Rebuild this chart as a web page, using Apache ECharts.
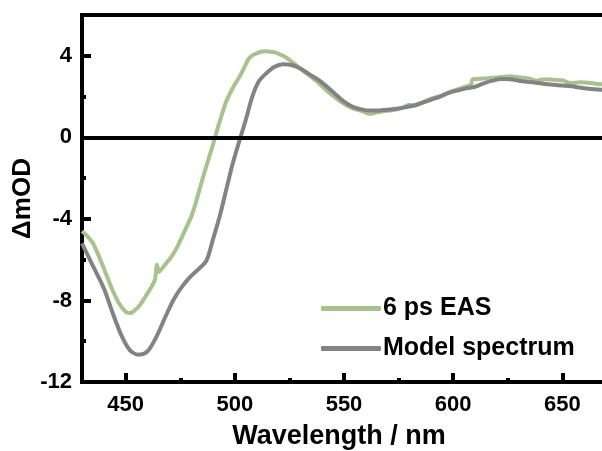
<!DOCTYPE html>
<html>
<head>
<meta charset="utf-8">
<script src="https://cdn.jsdelivr.net/npm/echarts@6/dist/echarts.min.js"></script>
<style>html,body{margin:0;padding:0;background:#fff;}#c{width:602px;height:451px;}</style>
</head>
<body>
<div id="c"></div>
<script>
const easWavelengths = [430,432,435,438,441,444,447,450,452,454,456,458,460,462,463.5,464.3,465.3,468,471,474,477,480,482,484,486,488,490,492,494,496,498,500,502,504,506,508,510,512,514,516,518,520,522,524,526,528,530,534,538,542,546,550,554,558,562,564,568,572,576,580,582,586,590,594,598,602,606,608,609,614,618,622,626,630,634,638,642,646,650,654,658,662,666,670];
const easValues = [-4.6,-4.8,-5.2,-5.9,-6.7,-7.5,-8.15,-8.55,-8.62,-8.5,-8.3,-8.0,-7.65,-7.3,-6.95,-6.25,-6.6,-6.25,-5.85,-5.3,-4.6,-3.9,-3.25,-2.5,-1.75,-1.05,-0.35,0.4,1.1,1.75,2.2,2.6,2.95,3.35,3.8,4.02,4.12,4.2,4.22,4.2,4.18,4.1,4.0,3.88,3.72,3.55,3.37,3.05,2.7,2.3,1.95,1.65,1.42,1.3,1.15,1.2,1.28,1.33,1.42,1.6,1.55,1.72,1.9,2.02,2.2,2.35,2.5,2.55,2.85,2.88,2.92,2.96,3.0,2.95,2.9,2.78,2.85,2.82,2.8,2.65,2.7,2.68,2.62,2.6];

const modelWavelengths = [430,435,440,444,448,452,456,460,464,468,472,476,480,484,487,490,493,496,499,502,505,508,511,514,518,522,526,530,534,538,542,546,550,554,558,562,566,570,574,578,582,586,590,594,598,602,606,610,614,618,622,626,630,634,638,642,646,650,654,658,662,666,670];
const modelValues = [-5.2,-6.3,-7.4,-8.6,-9.7,-10.45,-10.66,-10.5,-9.8,-8.85,-7.95,-7.3,-6.8,-6.4,-6.05,-5.0,-3.9,-2.6,-1.3,-0.2,0.85,2.0,2.75,3.1,3.45,3.59,3.55,3.38,3.1,2.84,2.5,2.12,1.75,1.5,1.37,1.31,1.32,1.35,1.4,1.47,1.56,1.7,1.85,2.0,2.18,2.3,2.4,2.48,2.65,2.78,2.86,2.85,2.78,2.72,2.68,2.62,2.58,2.54,2.5,2.44,2.38,2.35,2.32];

const xMajorTicks = [450,500,550,600,650];
const xMinorTicks = [475,525,575,625];
const yMajorTicks = [-12,-8,-4,0,4];
const yMinorTicks = [-10,-6,-2,2];
const seriesNames = ['6 ps EAS','Model spectrum'];

const FONT = '"Liberation Sans", Arial, sans-serif';
const chart = echarts.init(document.getElementById('c'), null, {renderer:'canvas'});
const zip = (xs, ys) => xs.map((x,i)=>[x, ys[i]]);
const axisLineStyle = {color:'#000', width:4};

chart.setOption({
  animation:false,
  backgroundColor:'#fff',
  grid:{left:82, right:-4, top:15, bottom:69, containLabel:false, outerBoundsMode:'none',
        show:true, borderColor:'#000', borderWidth:4, backgroundColor:'transparent'},
  legend:{
    orient:'vertical', left:316, top:291, itemWidth:60, itemHeight:5, itemGap:15,
    icon:'roundRect',
    textStyle:{fontFamily:FONT, fontWeight:'bold', fontSize:25, color:'#000', padding:[0,0,0,-3]},
    data:seriesNames
  },
  xAxis:[
    {type:'value', min:430, max:670, position:'bottom',
     axisLine:{show:true, lineStyle:axisLineStyle, onZero:false},
     axisTick:{show:true, inside:true, length:9, lineStyle:{color:'#000', width:4}, customValues:xMajorTicks},
     axisLabel:{show:true, margin:12, fontFamily:FONT, fontWeight:'bold', fontSize:22, color:'#000', customValues:xMajorTicks},
     splitLine:{show:false},
     name:'Wavelength / nm', nameLocation:'middle', nameGap:41,
     nameTextStyle:{fontFamily:FONT, fontWeight:'bold', fontSize:27, color:'#000', padding:[0,10,0,0]}},
    {type:'value', min:430, max:670, position:'bottom', offset:0,
     axisLine:{show:false, onZero:false},
     axisTick:{show:true, inside:true, length:4, lineStyle:{color:'#000', width:4}, customValues:xMinorTicks},
     axisLabel:{show:false}, splitLine:{show:false}}
  ],
  yAxis:[
    {type:'value', min:-12, max:6, position:'left',
     axisLine:{show:true, lineStyle:axisLineStyle, onZero:false},
     axisTick:{show:true, inside:true, length:9, lineStyle:{color:'#000', width:4}, customValues:yMajorTicks},
     axisLabel:{show:true, margin:10, fontFamily:FONT, fontWeight:'bold', fontSize:22, color:'#000', customValues:yMajorTicks},
     splitLine:{show:false},
     name:'\u0394mOD', nameLocation:'middle', nameGap:46, nameRotate:90, nameMoveOverlap:false,
     nameTextStyle:{fontFamily:FONT, fontWeight:'bold', fontSize:26, color:'#000'}},
    {type:'value', min:-12, max:6, position:'left', offset:0,
     axisLine:{show:false, onZero:false},
     axisTick:{show:true, inside:true, length:4, lineStyle:{color:'#000', width:4}, customValues:yMinorTicks},
     axisLabel:{show:false}, splitLine:{show:false}}
  ],
  series:[
    {name:seriesNames[0], type:'line', xAxisIndex:0, yAxisIndex:0, data:zip(easWavelengths, easValues),
     showSymbol:false, symbol:'none', smooth:0.2,
     lineStyle:{color:'#a5c38a', width:4}, itemStyle:{color:'#a5c38a'},
     markLine:{silent:true, symbol:['none','none'], label:{show:false},
       lineStyle:{color:'#000', width:4, type:'solid'}, data:[{yAxis:0}]}},
    {name:seriesNames[1], type:'line', xAxisIndex:0, yAxisIndex:0, data:zip(modelWavelengths, modelValues),
     showSymbol:false, symbol:'none', smooth:0.3,
     lineStyle:{color:'#838383', width:4}, itemStyle:{color:'#838383'}}
  ]
});
</script>
</body>
</html>
